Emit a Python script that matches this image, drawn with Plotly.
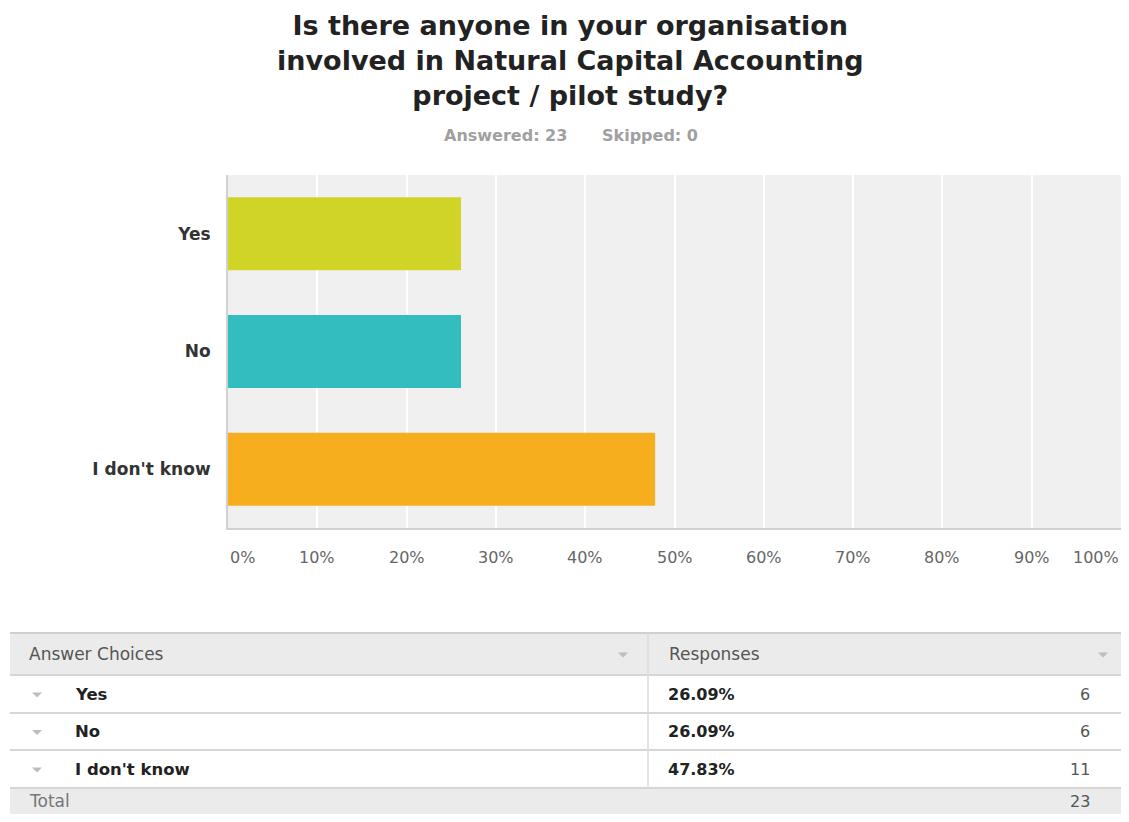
import plotly.graph_objects as go

# ---- data ----
question = "Is there anyone in your organisation<br>involved in Natural Capital Accounting<br>project / pilot study?"
answered = 23
skipped = 0
categories = ["Yes", "No", "I don't know"]
percents = [26.09, 26.09, 47.83]
counts = [6, 6, 11]
total = 23
bar_colors = ["#cfd427", "#33bdbf", "#f6ae1e"]
tick_vals = [0, 10, 20, 30, 40, 50, 60, 70, 80, 90, 100]
tick_text = ["0%", "10%", "20%", "30%", "40%", "50%", "60%", "70%", "80%", "90%", "100%"]

# page offset (browser body margin); keep page from scrolling
OFF = 8
W, H = 1129 - 2 * OFF, 822 - 2 * OFF
# plot area in screen pixels
L, R, T, B = 228, 1121, 175, 528


def px(x):
    return (x - L) / (R - L)


def py(y):
    return (B - y) / (B - T)


FONT = "DejaVu Sans"

fig = go.Figure(
    go.Bar(
        x=percents,
        y=categories,
        orientation="h",
        marker=dict(color=bar_colors, line=dict(width=0)),
        hoverinfo="skip",
    )
)

shapes = []
annotations = []

# title & subtitle
annotations.append(dict(x=px(570), y=py(9), xref="paper", yref="paper", text="<b>" + question + "</b>",
                        showarrow=False, xanchor="center", yanchor="top", borderpad=0,
                        font=dict(family=FONT, size=27, color="#222222")))
annotations.append(dict(x=px(505), y=py(135), xref="paper", yref="paper", text=f"<b>Answered: {answered}</b>",
                        showarrow=False, xanchor="center", yanchor="middle",
                        font=dict(family=FONT, size=16, color="#a0a0a0")))
annotations.append(dict(x=px(650), y=py(135), xref="paper", yref="paper", text=f"<b>Skipped: {skipped}</b>",
                        showarrow=False, xanchor="center", yanchor="middle",
                        font=dict(family=FONT, size=16, color="#a0a0a0")))

# x tick labels (ends aligned inward as in the reference)
for i, (tv, tt) in enumerate(zip(tick_vals, tick_text)):
    anchor = "left" if i == 0 else ("right" if i == len(tick_vals) - 1 else "center")
    annotations.append(dict(x=tv, y=py(557), xref="x", yref="paper", text=tt, showarrow=False,
                            xanchor=anchor, yanchor="middle",
                            font=dict(family=FONT, size=16, color="#666666")))

# ---- table ----
tx0, tx1, tdiv = 10, 1121, 648
header_top, header_bot = 633, 675
row_lines = [675, 713, 750, 788]
total_bot = 814


def rect(x0, y0, x1, y1, color):
    shapes.append(dict(type="rect", xref="paper", yref="paper", x0=px(x0), x1=px(x1), y0=py(y0), y1=py(y1),
                       fillcolor=color, line=dict(width=0), layer="above"))


def hline(y, color, w=1.5):
    shapes.append(dict(type="line", xref="paper", yref="paper", x0=px(tx0), x1=px(tx1), y0=py(y), y1=py(y),
                       line=dict(color=color, width=w), layer="above"))


def tri(xc, yc, w=10, h=5, color="#bdbdbd"):
    path = (f"M {px(xc - w / 2)},{py(yc - h / 2)} L {px(xc + w / 2)},{py(yc - h / 2)} "
            f"L {px(xc)},{py(yc + h / 2)} Z")
    shapes.append(dict(type="path", xref="paper", yref="paper", path=path, fillcolor=color,
                       line=dict(width=0), layer="above"))


rect(tx0, header_top, tx1, header_bot, "#ebebeb")
rect(tx0, row_lines[-1], tx1, total_bot, "#ebebeb")
hline(header_top, "#cfcfcf", 2)
for yl in row_lines:
    hline(yl, "#d6d6d6", 2)
shapes.append(dict(type="line", xref="paper", yref="paper", x0=px(tdiv), x1=px(tdiv), y0=py(header_top),
                   y1=py(row_lines[-1]), line=dict(color="#dcdcdc", width=1.5), layer="above"))


def text(x, y, s, size=15, color="#333333", anchor="left", bold=False):
    annotations.append(dict(x=px(x), y=py(y), xref="paper", yref="paper",
                            text=("<b>" + s + "</b>") if bold else s, showarrow=False,
                            xanchor=anchor, yanchor="middle",
                            font=dict(family=FONT, size=size, color=color)))


header_y = 654
text(27, header_y, "Answer Choices", 17, "#555555")
text(667, header_y, "Responses", 17, "#555555")
tri(623, header_y + 1)
tri(1103, header_y + 1)

row_centers = [(row_lines[i] + row_lines[i + 1]) / 2 for i in range(len(row_lines) - 1)]
for cat, pct, cnt, yc in zip(categories, percents, counts, row_centers):
    tri(37, yc + 1)
    text(73, yc, cat, 16.5, "#222222", bold=True)
    text(666, yc, f"{pct:.2f}%", 16, "#222222", bold=True)
    text(1092, yc, str(cnt), 16, "#555555", "right")

total_y = 801
text(27, total_y, "Total", 17, "#777777")
text(1092, total_y, str(total), 16, "#555555", "right")

fig.update_layout(
    width=W,
    height=H,
    margin=dict(l=L - OFF, r=W - (R - OFF), t=T - OFF, b=H - (B - OFF)),
    paper_bgcolor="white",
    plot_bgcolor="#f0f0f0",
    showlegend=False,
    bargap=0.38,
    shapes=shapes,
    annotations=annotations,
    xaxis=dict(
        range=[0, 100],
        tickvals=tick_vals,
        showticklabels=False,
        showgrid=True,
        gridcolor="white",
        gridwidth=2,
        zeroline=False,
        showline=True,
        linecolor="#d0d0d0",
        linewidth=2,
        ticks="",
        fixedrange=True,
    ),
    yaxis=dict(
        autorange="reversed",
        showgrid=False,
        zeroline=False,
        showline=True,
        linecolor="#d0d0d0",
        linewidth=2,
        ticks="",
        ticklabelstandoff=12,
        tickfont=dict(family=FONT, size=17, color="#333333", weight="bold"),
        fixedrange=True,
    ),
)

fig.write_html("out.html", config={"displayModeBar": False})
